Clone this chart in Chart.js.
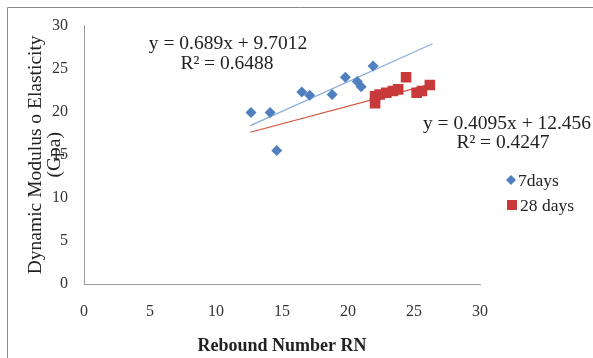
<!DOCTYPE html>
<html>
<head>
<meta charset="utf-8">
<script src="https://cdn.jsdelivr.net/npm/chart.js@4/dist/chart.umd.min.js"></script>
<style>
  html, body { margin: 0; padding: 0; background: #ffffff; }
  #wrap { position: relative; width: 593px; height: 358px; overflow: hidden; }
  canvas { position: absolute; left: 0; top: 0; }
</style>
</head>
<body>
<div id="wrap"><canvas id="c" width="593" height="358"></canvas></div>
<script>
// Rebound number vs dynamic modulus of elasticity
const seriesNames = ['7days', '28 days'];

const rebound7 = [12.65, 14.1, 14.6, 16.5, 17.1, 18.8, 19.8, 20.7, 21.0, 21.9];
const modulus7 = [19.9, 19.9, 15.5, 22.3, 21.9, 22.0, 24.0, 23.5, 22.9, 25.3];

const rebound28 = [22.05, 22.05, 22.4, 22.9, 23.4, 23.8, 24.4, 25.2, 25.6, 26.2];
const modulus28 = [21.8, 21.0, 22.0, 22.2, 22.4, 22.6, 24.0, 22.2, 22.4, 23.1];

// linear trendlines: slope, intercept, R², x-extent
const trendSlope = [0.689, 0.4095];
const trendIntercept = [9.7012, 12.456];
const trendR2 = ['0.6488', '0.4247'];
const trendEquation = ['y = 0.689x + 9.7012', 'y = 0.4095x + 12.456'];
const trendFrom = [12.6, 12.6];
const trendTo = [26.4, 26.2];

const xTicks = [0, 5, 10, 15, 20, 25, 30];
const yTicks = [0, 5, 10, 15, 20, 25, 30];

const BLUE = '#4F7FBE';
const RED = '#C8393A';
const SERIF = '"Liberation Serif", "Times New Roman", serif';

function pairs(xs, ys) { return xs.map((x, i) => ({ x: x, y: ys[i] })); }
function trend(k) {
  return [trendFrom[k], trendTo[k]].map(x => ({ x: x, y: trendSlope[k] * x + trendIntercept[k] }));
}

// text overlays: equations, legend and the outer frame
const overlay = {
  id: 'overlay',
  afterDraw(chart) {
    const ctx = chart.ctx;
    ctx.save();
    // frame
    ctx.strokeStyle = '#8a8a8a';
    ctx.lineWidth = 1;
    ctx.beginPath();
    ctx.moveTo(7.5, 358);
    ctx.lineTo(7.5, 7.5);
    ctx.lineTo(593, 7.5);
    ctx.stroke();

    ctx.fillStyle = '#222';
    ctx.textAlign = 'center';
    ctx.textBaseline = 'middle';
    ctx.font = '19.5px ' + SERIF;
    ctx.fillText(trendEquation[0], 228, 44);
    ctx.fillText('R\u00B2 = ' + trendR2[0], 227, 64);
    ctx.fillText(trendEquation[1], 507, 124);
    ctx.fillText('R\u00B2 = ' + trendR2[1], 503, 143);

    // legend
    ctx.textAlign = 'left';
    ctx.font = '17.5px ' + SERIF;
    ctx.fillStyle = BLUE;
    ctx.beginPath();
    ctx.moveTo(511, 175); ctx.lineTo(516, 180); ctx.lineTo(511, 185); ctx.lineTo(506, 180); ctx.closePath();
    ctx.fill();
    ctx.fillStyle = RED;
    ctx.fillRect(507, 200, 10, 10);
    ctx.fillStyle = '#222';
    ctx.fillText(seriesNames[0], 518, 181);
    ctx.fillText(seriesNames[1], 520, 206);
    ctx.restore();
  }
};

new Chart(document.getElementById('c'), {
  type: 'scatter',
  data: {
    datasets: [
      { label: seriesNames[0], data: pairs(rebound7, modulus7), pointStyle: 'rectRot',
        pointRadius: 5.5, backgroundColor: BLUE, borderColor: BLUE, borderWidth: 0 },
      { label: seriesNames[1], data: pairs(rebound28, modulus28), pointStyle: 'rect',
        pointRadius: 7.5, backgroundColor: RED, borderColor: RED, borderWidth: 0 },
      { label: 'trend7', type: 'line', data: trend(0), showLine: true, pointRadius: 0,
        borderColor: '#86ADDC', borderWidth: 1.2, fill: false },
      { label: 'trend28', type: 'line', data: trend(1), showLine: true, pointRadius: 0,
        borderColor: '#D4533A', borderWidth: 1.2, fill: false }
    ]
  },
  options: {
    responsive: false,
    animation: false,
    devicePixelRatio: 1,
    layout: { padding: { left: 0, top: 24, right: 113, bottom: 0 } },
    plugins: { legend: { display: false }, tooltip: { enabled: false } },
    scales: {
      x: {
        type: 'linear', min: 0, max: 30,
        afterBuildTicks: s => { s.ticks = xTicks.map(v => ({ value: v })); },
        afterFit: s => { s.height = 74; },
        grid: { display: false, drawTicks: false },
        border: { display: true, color: '#9a9a9a', width: 1 },
        ticks: { padding: 18, color: '#333', font: { family: SERIF, size: 16 } },
        title: { display: true, text: 'Rebound Number RN', color: '#222',
                 font: { family: SERIF, size: 18, weight: 'bold' }, padding: { top: 0, bottom: 1 } }
      },
      y: {
        type: 'linear', min: 0, max: 30,
        afterBuildTicks: s => { s.ticks = yTicks.map(v => ({ value: v })); },
        afterFit: s => { s.width = 84; },
        grid: { display: false, drawTicks: false },
        border: { display: true, color: '#9a9a9a', width: 1 },
        ticks: { padding: 16, color: '#333', font: { family: SERIF, size: 16 } },
        title: { display: true, text: ['Dynamic Modulus o Elasticity', '(Gpa)'], color: '#222',
                 font: { family: SERIF, size: 19.5, lineHeight: 0.95 }, padding: { top: 27, bottom: 0 } }
      }
    }
  },
  plugins: [overlay]
});
</script>
</body>
</html>
